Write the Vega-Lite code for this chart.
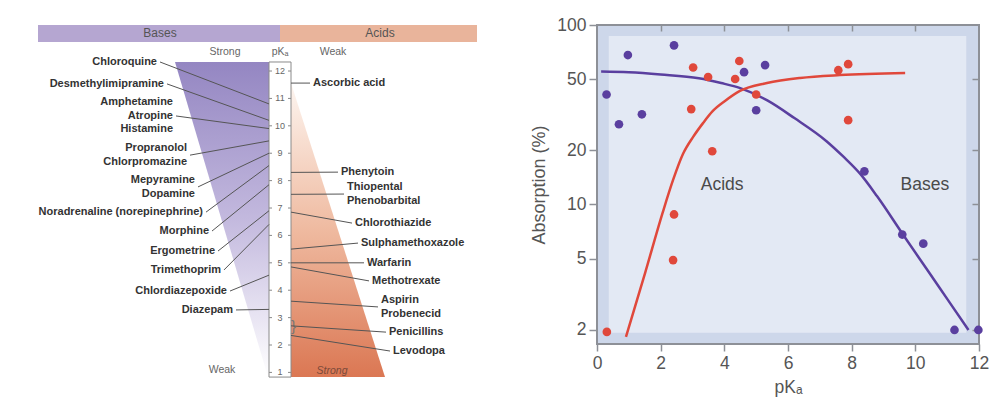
{
  "$schema": "https://vega.github.io/schema/vega-lite/v6.json",
  "padding": {"left": 30, "top": 15, "right": 5, "bottom": 5},
  "spacing": 117,
  "bounds": "flush",
  "resolve": {"scale": {"color": "independent"}},
  "config": {"font": "Liberation Sans", "view": {"stroke": null}},
  "datasets": {
    "drugs": [
      {"label": "Chloroquine", "side": "base", "pKa": 10.8, "label_pos": 12.33, "label_x": -120},
      {"label": "Desmethylimipramine", "side": "base", "pKa": 10.2, "label_pos": 11.53, "label_x": -113},
      {"label": "Amphetamine|Atropine|Histamine", "side": "base", "pKa": 9.9, "label_pos": 10.36, "label_x": -104},
      {"label": "Propranolol|Chlorpromazine", "side": "base", "pKa": 9.45, "label_pos": 8.93, "label_x": -90},
      {"label": "Mepyramine|Dopamine", "side": "base", "pKa": 9.0, "label_pos": 7.77, "label_x": -82},
      {"label": "Noradrenaline (norepinephrine)", "side": "base", "pKa": 8.55, "label_pos": 6.85, "label_x": -74},
      {"label": "Morphine", "side": "base", "pKa": 7.85, "label_pos": 6.16, "label_x": -68},
      {"label": "Ergometrine", "side": "base", "pKa": 6.9, "label_pos": 5.43, "label_x": -62},
      {"label": "Trimethoprim", "side": "base", "pKa": 6.4, "label_pos": 4.74, "label_x": -56},
      {"label": "Chlordiazepoxide", "side": "base", "pKa": 4.55, "label_pos": 3.97, "label_x": -50},
      {"label": "Diazepam", "side": "base", "pKa": 3.3, "label_pos": 3.28, "label_x": -44},
      {"label": "Ascorbic acid", "side": "acid", "pKa": 11.56, "label_pos": 11.56, "label_x": 30},
      {"label": "Phenytoin", "side": "acid", "pKa": 8.3, "label_pos": 8.31, "label_x": 58},
      {"label": "Thiopental|Phenobarbital", "side": "acid", "pKa": 7.5, "label_pos": 7.51, "label_x": 64},
      {"label": "Chlorothiazide", "side": "acid", "pKa": 6.85, "label_pos": 6.45, "label_x": 72},
      {"label": "Sulphamethoxazole", "side": "acid", "pKa": 5.5, "label_pos": 5.72, "label_x": 78},
      {"label": "Warfarin", "side": "acid", "pKa": 5.0, "label_pos": 5.0, "label_x": 84},
      {"label": "Methotrexate", "side": "acid", "pKa": 4.85, "label_pos": 4.34, "label_x": 89},
      {"label": "Aspirin|Probenecid", "side": "acid", "pKa": 3.6, "label_pos": 3.39, "label_x": 98},
      {"label": "Penicillins", "side": "acid", "pKa": 2.7, "label_pos": 2.47, "label_x": 106},
      {"label": "Levodopa", "side": "acid", "pKa": 2.35, "label_pos": 1.78, "label_x": 110}
    ],
    "pkscale": [
      {"pKa": 1}, {"pKa": 2}, {"pKa": 3}, {"pKa": 4}, {"pKa": 5}, {"pKa": 6},
      {"pKa": 7}, {"pKa": 8}, {"pKa": 9}, {"pKa": 10}, {"pKa": 11}, {"pKa": 12}
    ],
    "curves": [
      {"series": "Bases", "pKa": 0.13, "abs": 55},
      {"series": "Bases", "pKa": 1.0, "abs": 54.5},
      {"series": "Bases", "pKa": 2.0, "abs": 53},
      {"series": "Bases", "pKa": 3.2, "abs": 50.5},
      {"series": "Bases", "pKa": 3.9, "abs": 47.5},
      {"series": "Bases", "pKa": 4.5, "abs": 44.5},
      {"series": "Bases", "pKa": 5.35, "abs": 38},
      {"series": "Bases", "pKa": 6.2, "abs": 30.3},
      {"series": "Bases", "pKa": 7.2, "abs": 22.6},
      {"series": "Bases", "pKa": 7.75, "abs": 18.4},
      {"series": "Bases", "pKa": 8.27, "abs": 14.8},
      {"series": "Bases", "pKa": 8.8, "abs": 11.1},
      {"series": "Bases", "pKa": 9.6, "abs": 6.85},
      {"series": "Bases", "pKa": 10.4, "abs": 4.26},
      {"series": "Bases", "pKa": 11.0, "abs": 2.98},
      {"series": "Bases", "pKa": 11.67, "abs": 2.0},
      {"series": "Acids", "pKa": 0.91, "abs": 1.83},
      {"series": "Acids", "pKa": 1.51, "abs": 4.15},
      {"series": "Acids", "pKa": 2.07, "abs": 9.1},
      {"series": "Acids", "pKa": 2.39, "abs": 13.7},
      {"series": "Acids", "pKa": 2.7, "abs": 19.1},
      {"series": "Acids", "pKa": 3.02, "abs": 23.8},
      {"series": "Acids", "pKa": 3.33, "abs": 28.4},
      {"series": "Acids", "pKa": 3.64, "abs": 33.2},
      {"series": "Acids", "pKa": 4.02, "abs": 37.7},
      {"series": "Acids", "pKa": 4.49, "abs": 42.9},
      {"series": "Acids", "pKa": 5.34, "abs": 47.5},
      {"series": "Acids", "pKa": 6.38, "abs": 50.7},
      {"series": "Acids", "pKa": 7.63, "abs": 52.6},
      {"series": "Acids", "pKa": 9.68, "abs": 54.0}
    ],
    "points": [
      {"series": "Bases", "pKa": 0.3, "abs": 41},
      {"series": "Bases", "pKa": 0.69, "abs": 28},
      {"series": "Bases", "pKa": 0.97, "abs": 68},
      {"series": "Bases", "pKa": 1.41, "abs": 31.8},
      {"series": "Bases", "pKa": 2.42, "abs": 77},
      {"series": "Bases", "pKa": 4.62, "abs": 54.6},
      {"series": "Bases", "pKa": 5.0, "abs": 33.5},
      {"series": "Bases", "pKa": 5.28, "abs": 59.8},
      {"series": "Bases", "pKa": 8.4, "abs": 15.3},
      {"series": "Bases", "pKa": 9.59, "abs": 6.8},
      {"series": "Bases", "pKa": 10.25, "abs": 6.05},
      {"series": "Bases", "pKa": 11.23, "abs": 2.0},
      {"series": "Bases", "pKa": 11.98, "abs": 2.0},
      {"series": "Acids", "pKa": 0.31, "abs": 1.95},
      {"series": "Acids", "pKa": 3.02, "abs": 58},
      {"series": "Acids", "pKa": 3.49, "abs": 51.3},
      {"series": "Acids", "pKa": 2.96, "abs": 34},
      {"series": "Acids", "pKa": 3.62, "abs": 19.8},
      {"series": "Acids", "pKa": 4.34, "abs": 50},
      {"series": "Acids", "pKa": 4.47, "abs": 63},
      {"series": "Acids", "pKa": 5.0, "abs": 41},
      {"series": "Acids", "pKa": 2.42, "abs": 8.8},
      {"series": "Acids", "pKa": 2.39, "abs": 4.9},
      {"series": "Acids", "pKa": 7.58, "abs": 56},
      {"series": "Acids", "pKa": 7.89, "abs": 60.5},
      {"series": "Acids", "pKa": 7.89, "abs": 29.5}
    ]
  },
  "hconcat": [
    {
      "width": 450,
      "height": 357,
      "view": {"stroke": null},
      "encoding": {
        "x": {"type": "quantitative", "scale": {"domain": [-250, 200], "nice": false, "zero": false}, "axis": null},
        "y": {"type": "quantitative", "scale": {"domain": [0.65, 13.68], "nice": false, "zero": false}, "axis": null}
      },
      "layer": [
        {
          "data": {"values": [{"band": "Bases", "x1": -242, "x2": 0, "mid": -120, "y1": 13.06, "y2": 13.68, "ym": 13.37}, {"band": "Acids", "x1": 0, "x2": 197, "mid": 100, "y1": 13.06, "y2": 13.68, "ym": 13.37}]},
          "layer": [
            {
              "mark": {"type": "rect"},
              "encoding": {
                "x": {"field": "x1", "type": "quantitative"},
                "x2": {"field": "x2"},
                "y": {"field": "y1", "type": "quantitative"},
                "y2": {"field": "y2"},
                "color": {"field": "band", "type": "nominal", "scale": {"domain": ["Bases", "Acids"], "range": ["#b5a6d1", "#e9b49b"]}, "legend": null}
              }
            },
            {
              "mark": {"type": "text", "fontSize": 12, "color": "#555"},
              "encoding": {
                "x": {"field": "mid", "type": "quantitative"},
                "y": {"field": "ym", "type": "quantitative"},
                "text": {"field": "band", "type": "nominal"}
              }
            }
          ]
        },
        {
          "data": {"values": [{"pKa": 12.33, "edge": -105, "inner": -11}, {"pKa": 0.83, "edge": -12, "inner": -11}]},
          "mark": {
            "type": "area",
            "orient": "horizontal",
            "color": {"gradient": "linear", "x1": 0, "y1": 0, "x2": 0, "y2": 1,
              "stops": [{"offset": 0, "color": "#9486c2"}, {"offset": 0.5, "color": "#c3b9de"}, {"offset": 1, "color": "#ffffff"}]}
          },
          "encoding": {
            "y": {"field": "pKa", "type": "quantitative"},
            "x": {"field": "edge", "type": "quantitative", "stack": null},
            "x2": {"field": "inner"}
          }
        },
        {
          "data": {"values": [{"pKa": 11.56, "edge": 11, "inner": 11}, {"pKa": 0.83, "edge": 105, "inner": 11}]},
          "mark": {
            "type": "area",
            "orient": "horizontal",
            "color": {"gradient": "linear", "x1": 0, "y1": 0, "x2": 0, "y2": 1,
              "stops": [{"offset": 0, "color": "#fdf5f0"}, {"offset": 0.5, "color": "#efbaa0"}, {"offset": 1, "color": "#db7753"}]}
          },
          "encoding": {
            "y": {"field": "pKa", "type": "quantitative"},
            "x": {"field": "edge", "type": "quantitative", "stack": null},
            "x2": {"field": "inner"}
          }
        },
        {
          "data": {"values": [{"x1": -11, "x2": 11, "y1": 0.83, "y2": 12.33}]},
          "mark": {"type": "rect", "fill": "#ffffff", "stroke": "#8a8a8a", "strokeWidth": 1},
          "encoding": {
            "x": {"field": "x1", "type": "quantitative"},
            "x2": {"field": "x2"},
            "y": {"field": "y1", "type": "quantitative"},
            "y2": {"field": "y2"}
          }
        },
        {
          "data": {"name": "pkscale"},
          "transform": [{"calculate": "-11", "as": "a1"}, {"calculate": "-8", "as": "a2"}, {"calculate": "8", "as": "b1"}, {"calculate": "11", "as": "b2"}, {"calculate": "0", "as": "c"}],
          "layer": [
            {
              "mark": {"type": "rule", "color": "#8a8a8a", "strokeWidth": 1},
              "encoding": {
                "x": {"field": "a1", "type": "quantitative"},
                "x2": {"field": "a2"},
                "y": {"field": "pKa", "type": "quantitative"}
              }
            },
            {
              "mark": {"type": "rule", "color": "#8a8a8a", "strokeWidth": 1},
              "encoding": {
                "x": {"field": "b1", "type": "quantitative"},
                "x2": {"field": "b2"},
                "y": {"field": "pKa", "type": "quantitative"}
              }
            },
            {
              "mark": {"type": "text", "fontSize": 9, "color": "#666"},
              "encoding": {
                "x": {"field": "c", "type": "quantitative"},
                "y": {"field": "pKa", "type": "quantitative"},
                "text": {"field": "pKa", "type": "quantitative"}
              }
            }
          ]
        },
        {
          "data": {"values": [
            {"t": "pKₐ", "x": 0, "y": 12.68, "style": "n"},
            {"t": "Strong", "x": -55, "y": 12.68, "style": "i"},
            {"t": "Weak", "x": 53, "y": 12.68, "style": "i"},
            {"t": "Weak", "x": -58, "y": 1.1, "style": "i"}
          ]},
          "mark": {"type": "text", "fontSize": 10.5, "color": "#666"},
          "encoding": {
            "x": {"field": "x", "type": "quantitative"},
            "y": {"field": "y", "type": "quantitative"},
            "text": {"field": "t", "type": "nominal"},
            "fontStyle": {"condition": {"test": "datum.style === 'i'", "value": "italic"}, "value": "normal"}
          }
        },
        {
          "data": {"values": [{"t": "Strong", "x": 52, "y": 1.05}]},
          "mark": {"type": "text", "fontSize": 10.5, "fontStyle": "italic", "color": "#7a4a3a"},
          "encoding": {
            "x": {"field": "x", "type": "quantitative"},
            "y": {"field": "y", "type": "quantitative"},
            "text": {"field": "t", "type": "nominal"}
          }
        },
        {
          "data": {"values": [{"t": "}", "x": 13.5, "y": 2.68}]},
          "mark": {"type": "text", "fontSize": 15, "color": "#777"},
          "encoding": {
            "x": {"field": "x", "type": "quantitative"},
            "y": {"field": "y", "type": "quantitative"},
            "text": {"field": "t", "type": "nominal"}
          }
        },
        {
          "data": {"name": "drugs"},
          "transform": [
            {"calculate": "datum.side === 'base' ? -11 : 11", "as": "col"},
            {"calculate": "datum.label_pos + (length(split(datum.label, '|')) - 1) * 0.2464", "as": "text_pos"}
          ],
          "layer": [
            {
              "mark": {"type": "rule", "color": "#555", "strokeWidth": 1},
              "encoding": {
                "x": {"field": "label_x", "type": "quantitative"},
                "y": {"field": "label_pos", "type": "quantitative"},
                "x2": {"field": "col"},
                "y2": {"field": "pKa"}
              }
            },
            {
              "transform": [{"filter": "datum.side === 'base'"}],
              "mark": {"type": "text", "align": "right", "baseline": "middle", "dx": -3, "fontSize": 11, "fontWeight": "bold", "color": "#333", "lineBreak": "|", "lineHeight": 13.5},
              "encoding": {
                "x": {"field": "label_x", "type": "quantitative"},
                "y": {"field": "text_pos", "type": "quantitative"},
                "text": {"field": "label", "type": "nominal"}
              }
            },
            {
              "transform": [{"filter": "datum.side === 'acid'"}],
              "mark": {"type": "text", "align": "left", "baseline": "middle", "dx": 3, "fontSize": 11, "fontWeight": "bold", "color": "#333", "lineBreak": "|", "lineHeight": 13.5},
              "encoding": {
                "x": {"field": "label_x", "type": "quantitative"},
                "y": {"field": "text_pos", "type": "quantitative"},
                "text": {"field": "label", "type": "nominal"}
              }
            }
          ]
        }
      ]
    },
    {
      "width": 382,
      "height": 319,
      "view": {"fill": "#cdd7ea", "stroke": "#8d9097", "strokeWidth": 2},
      "layer": [
        {
          "data": {"values": [{"x1": 0.37, "x2": 11.6, "y1": 1.93, "y2": 86.8}]},
          "mark": {"type": "rect", "color": "#e3e9f4"},
          "encoding": {
            "x": {"field": "x1", "type": "quantitative", "scale": {"domain": [0, 12], "nice": false, "zero": false}, "axis": null},
            "x2": {"field": "x2"},
            "y": {"field": "y1", "type": "quantitative", "scale": {"type": "log", "domain": [1.67, 100], "nice": false}, "axis": null},
            "y2": {"field": "y2"}
          }
        },
        {
          "data": {"name": "curves"},
          "mark": {"type": "line", "strokeWidth": 2.5, "interpolate": "monotone"},
          "encoding": {
            "x": {"field": "pKa", "type": "quantitative",
              "axis": {"orient": "bottom", "values": [0, 2, 4, 6, 8, 10, 12], "domain": false, "grid": false, "tickSize": 7, "tickColor": "#8d9097", "tickWidth": 1.5,
                "labelFontSize": 17.5, "labelColor": "#555", "labelPadding": 3, "labelFlush": false,
                "title": "pKₐ", "titleFontSize": 17.5, "titleFontWeight": "normal", "titleColor": "#555", "titlePadding": 7}},
            "y": {"field": "abs", "type": "quantitative",
              "axis": {"orient": "left", "values": [2, 5, 10, 20, 50, 100], "format": "d", "domain": false, "grid": false, "tickSize": 8, "tickColor": "#8d9097", "tickWidth": 1.5,
                "labelFontSize": 17.5, "labelColor": "#555", "labelPadding": 3, "labelFlush": false,
                "title": "Absorption (%)", "titleFontSize": 18, "titleFontWeight": "normal", "titleColor": "#555", "titlePadding": 8}},
            "color": {"field": "series", "type": "nominal", "scale": {"domain": ["Acids", "Bases"], "range": ["#e0483b", "#5a3f9f"]}, "legend": null}
          }
        },
        {
          "data": {"name": "points"},
          "mark": {"type": "circle", "size": 75, "opacity": 1},
          "encoding": {
            "x": {"field": "pKa", "type": "quantitative", "axis": null},
            "y": {"field": "abs", "type": "quantitative", "axis": null},
            "color": {"field": "series", "type": "nominal", "legend": null}
          }
        },
        {
          "data": {"values": [{"series": "Acids", "pKa": 3.93, "abs": 12.9}, {"series": "Bases", "pKa": 10.3, "abs": 12.9}]},
          "mark": {"type": "text", "fontSize": 17.5, "color": "#4a4a4a"},
          "encoding": {
            "x": {"field": "pKa", "type": "quantitative", "axis": null},
            "y": {"field": "abs", "type": "quantitative", "axis": null},
            "text": {"field": "series", "type": "nominal"}
          }
        },
        {
          "data": {"values": [{"pKa": 6, "abs": 10}]},
          "mark": {"type": "point", "opacity": 0},
          "encoding": {
            "x": {"field": "pKa", "type": "quantitative",
              "axis": {"orient": "top", "values": [2, 4, 6, 8, 10], "labels": false, "domain": false, "grid": false, "tickSize": -6, "tickColor": "#8d9097", "tickWidth": 1.5, "title": null}},
            "y": {"field": "abs", "type": "quantitative",
              "axis": {"orient": "right", "values": [2, 5, 10, 20, 50], "labels": false, "domain": false, "grid": false, "tickSize": -7, "tickColor": "#8d9097", "tickWidth": 1.5, "title": null}}
          }
        }
      ],
      "resolve": {"axis": {"x": "independent", "y": "independent"}}
    }
  ]
}
